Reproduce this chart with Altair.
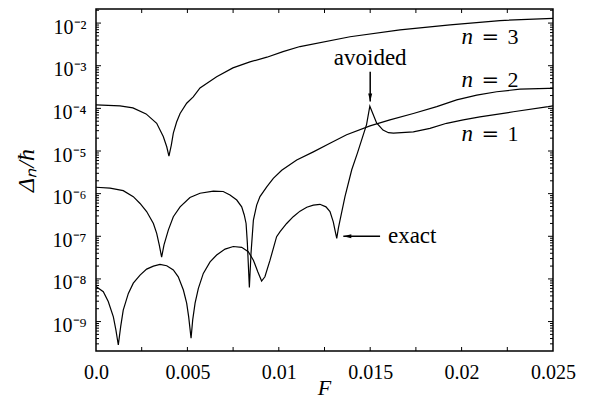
import altair as alt
import pandas as pd

# ---- data (F values and log10 of Delta_n/hbar) ----
F_n3 = [0.0, 0.00131, 0.00202, 0.00274, 0.00332, 0.00368, 0.00387, 0.00399, 0.00412, 0.00423,
        0.00441, 0.0046, 0.00496, 0.00532, 0.00569, 0.0066, 0.00749, 0.00842, 0.00935, 0.01023,
        0.01116, 0.0139, 0.01663, 0.01937, 0.0221, 0.025]
LOG_n3 = [-3.92, -3.94, -3.99, -4.13, -4.35, -4.66, -4.90, -5.12, -4.86, -4.58,
          -4.32, -4.12, -3.88, -3.73, -3.52, -3.26, -3.05, -2.91, -2.80, -2.67,
          -2.55, -2.32, -2.16, -2.04, -1.94, -1.89]

F_n2 = [0.0, 0.00077, 0.00149, 0.00204, 0.00241, 0.00277, 0.00314, 0.00332, 0.00346, 0.00359,
        0.00372, 0.00396, 0.00423, 0.0046, 0.00514, 0.00569, 0.00642, 0.00696, 0.00733, 0.0077,
        0.00797, 0.00811, 0.00821, 0.00828, 0.00839, 0.00848, 0.00861, 0.00879, 0.00897, 0.00934,
        0.0097, 0.01016, 0.01098, 0.01189, 0.0128, 0.01371, 0.01499, 0.01608, 0.01736, 0.01864,
        0.01973, 0.02083, 0.02192, 0.02319, 0.02474, 0.025]
LOG_n2 = [-5.85, -5.87, -5.93, -6.07, -6.23, -6.42, -6.70, -6.93, -7.20, -7.49,
          -7.20, -6.85, -6.54, -6.31, -6.09, -5.99, -5.94, -5.95, -6.03, -6.15,
          -6.31, -6.50, -6.70, -7.16, -8.20, -7.40, -6.62, -6.27, -6.07, -5.84,
          -5.64, -5.45, -5.21, -5.02, -4.82, -4.62, -4.41, -4.27, -4.12, -3.96,
          -3.80, -3.69, -3.61, -3.55, -3.53, -3.53]

F_n1 = [0.0, 0.0004, 0.00067, 0.00095, 0.00109, 0.00122, 0.00135, 0.00149, 0.00177, 0.00204,
        0.00241, 0.00277, 0.00314, 0.0035, 0.00387, 0.00423, 0.0045, 0.00478, 0.00496, 0.00507,
        0.0052, 0.00529, 0.00542, 0.0056, 0.00587, 0.00624, 0.0066, 0.00706, 0.00751, 0.00797,
        0.00833, 0.00861, 0.00885, 0.00906, 0.00924, 0.00952, 0.00988, 0.01007, 0.01043, 0.01079,
        0.01116, 0.01153, 0.01189, 0.01225, 0.01258, 0.0128, 0.01298, 0.01307, 0.01317, 0.01326,
        0.01335, 0.01362, 0.01399, 0.0143, 0.0148, 0.01498, 0.01535, 0.0157, 0.016, 0.01627,
        0.01736, 0.01827, 0.01918, 0.02009, 0.021, 0.02283, 0.02474, 0.025]
LOG_n1 = [-8.18, -8.30, -8.53, -8.89, -9.20, -9.55, -9.12, -8.73, -8.34, -8.10,
          -7.91, -7.77, -7.70, -7.66, -7.69, -7.79, -7.95, -8.26, -8.57, -8.89,
          -9.39, -8.96, -8.57, -8.22, -7.87, -7.60, -7.44, -7.30, -7.24, -7.26,
          -7.36, -7.56, -7.83, -8.05, -7.95, -7.56, -7.01, -6.89, -6.70, -6.54,
          -6.41, -6.32, -6.27, -6.25, -6.31, -6.42, -6.66, -6.85, -7.05, -6.81,
          -6.62, -6.07, -5.44, -5.05, -4.38, -3.95, -4.34, -4.51, -4.57, -4.58,
          -4.55, -4.47, -4.35, -4.27, -4.20, -4.08, -3.96, -3.94]

X_TICKS = [0.0, 0.005, 0.01, 0.015, 0.02, 0.025]
X_MINOR = [0.0025, 0.005, 0.0075, 0.01, 0.0125, 0.015, 0.0175, 0.02, 0.0225]
Y_TICKS = [1e-9, 1e-8, 1e-7, 1e-6, 1e-5, 1e-4, 1e-3, 1e-2]

N_LABEL_F = [0.02, 0.02, 0.02]
N_LABEL_D = [3.27e-3, 3.16e-4, 1.7e-5]
N_LABEL_DIGIT = ["3", "2", "1"]

AVOIDED_F = [0.015]
AVOIDED_TEXT_D = [1.05e-3]
AVOIDED_ARROW_D = [7.2e-4, 1.45e-4]
EXACT_TEXT_F = [0.01597]
EXACT_TEXT_D = [6.9e-8]
EXACT_ARROW_F = [0.01554, 0.01353]
EXACT_ARROW_D = [1.0e-7]

Y_DOMAIN = [2.04e-10, 2.14e-2]
X_DOMAIN = [0.0, 0.025]

W, H = 457, 342
SERIF = "Liberation Serif"

curves = pd.concat([
    pd.DataFrame({"F": F_n1, "D": [10 ** v for v in LOG_n1], "n": "1"}),
    pd.DataFrame({"F": F_n2, "D": [10 ** v for v in LOG_n2], "n": "2"}),
    pd.DataFrame({"F": F_n3, "D": [10 ** v for v in LOG_n3], "n": "3"}),
], ignore_index=True)

xs = alt.Scale(domain=X_DOMAIN, nice=False, zero=False)
ys = alt.Scale(type="log", domain=Y_DOMAIN, nice=False)

sup = "⁰¹²³⁴⁵⁶⁷⁸⁹"
ylabel = ("'10⁻' + substring('" + sup + "', -round(log(datum.value)/LN10), "
          "-round(log(datum.value)/LN10) + 1)")

lines = alt.Chart(curves).mark_line(color="black", strokeWidth=1.2, clip=True).encode(
    x=alt.X("F:Q", scale=xs, axis=alt.Axis(
        values=X_TICKS, ticks=False, domain=False, grid=False,
        labelExpr="datum.value == 0 ? '0.0' : format(datum.value, '~g')",
        labelFontSize=20, labelColor="black", labelPadding=11,
        labelFlush=False, labelOverlap=False,
        title="F", titleFontSize=22, titleFontStyle="italic",
        titleFontWeight="normal", titleColor="black", titleX=228, titleY=43,
        titleAlign="center", titleBaseline="alphabetic")),
    y=alt.Y("D:Q", scale=ys, axis=alt.Axis(
        values=Y_TICKS, ticks=False, domain=False, grid=False,
        labelExpr=ylabel, labelFontSize=20, labelColor="black",
        labelPadding=10, labelBaseline="alphabetic", labelOffset=10,
        labelFlush=False, labelOverlap=False,
        title="Δₙ/ħ", titleFontSize=24, titleFontStyle="italic",
        titleFontWeight="normal", titleColor="black", titleX=-63, titleY=161,
        titleAngle=270, titleAlign="center", titleBaseline="alphabetic")),
    detail="n:N",
)

# ticks (inward) drawn as rules
xt = pd.DataFrame({"F": X_MINOR})
ymaj = pd.DataFrame({"D": Y_TICKS})
yminor_vals = [m * 10.0 ** e for e in range(-10, -1) for m in range(2, 10)
               if Y_DOMAIN[0] <= m * 10.0 ** e <= Y_DOMAIN[1]]
ymin = pd.DataFrame({"D": yminor_vals})

def xtick(y0, y1):
    return alt.Chart(xt).mark_rule(color="black", strokeWidth=1).encode(
        x=alt.X("F:Q", scale=xs), y=alt.value(y0), y2=alt.value(y1))

def ytick(df, x0, x1):
    return alt.Chart(df).mark_rule(color="black", strokeWidth=1).encode(
        y=alt.Y("D:Q", scale=ys), x=alt.value(x0), x2=alt.value(x1))

ticks = [xtick(H, H - 4), xtick(0, 4),
         ytick(ymaj, 0, 5), ytick(ymin, 0, 3),
         ytick(ymaj, W, W - 5), ytick(ymin, W, W - 3)]

# n labels
nlab = pd.DataFrame({"F": N_LABEL_F, "D": N_LABEL_D, "d": N_LABEL_DIGIT})
n_it = alt.Chart(nlab).mark_text(font=SERIF, fontSize=23, fontStyle="italic", align="left",
                                 baseline="alphabetic", color="black").encode(
    x=alt.X("F:Q", scale=xs), y=alt.Y("D:Q", scale=ys), text=alt.value("n"))
n_eq = alt.Chart(nlab).mark_text(font="DejaVu Serif", fontSize=21, align="left", dx=20,
                                 baseline="alphabetic", color="black").encode(
    x=alt.X("F:Q", scale=xs), y=alt.Y("D:Q", scale=ys), text=alt.value("="))
n_dg = alt.Chart(nlab).mark_text(font=SERIF, fontSize=22, align="left", dx=46,
                                 baseline="alphabetic", color="black").encode(
    x=alt.X("F:Q", scale=xs), y=alt.Y("D:Q", scale=ys), text="d:N")

# avoided / exact annotations
av_txt = alt.Chart(pd.DataFrame({"F": AVOIDED_F, "D": AVOIDED_TEXT_D, "t": ["avoided"]})).mark_text(
    font=SERIF, fontSize=23, align="center", baseline="alphabetic", color="black").encode(
    x=alt.X("F:Q", scale=xs), y=alt.Y("D:Q", scale=ys), text="t:N")
av_line = alt.Chart(pd.DataFrame({"F": AVOIDED_F, "D": [AVOIDED_ARROW_D[0]], "D2": [AVOIDED_ARROW_D[1]]})).mark_rule(
    color="black", strokeWidth=1.5).encode(
    x=alt.X("F:Q", scale=xs), y=alt.Y("D:Q", scale=ys), y2="D2:Q")
av_head = alt.Chart(pd.DataFrame({"F": AVOIDED_F, "D": [AVOIDED_ARROW_D[1]]})).mark_point(
    shape="M -0.5 -2 L 0.5 -2 L 0 0 Z", size=64, filled=True, color="black", opacity=1, strokeWidth=0).encode(
    x=alt.X("F:Q", scale=xs), y=alt.Y("D:Q", scale=ys))

ex_txt = alt.Chart(pd.DataFrame({"F": EXACT_TEXT_F, "D": EXACT_TEXT_D, "t": ["exact"]})).mark_text(
    font=SERIF, fontSize=23, align="left", baseline="alphabetic", color="black").encode(
    x=alt.X("F:Q", scale=xs), y=alt.Y("D:Q", scale=ys), text="t:N")
ex_line = alt.Chart(pd.DataFrame({"F": [EXACT_ARROW_F[0]], "F2": [EXACT_ARROW_F[1]], "D": EXACT_ARROW_D})).mark_rule(
    color="black", strokeWidth=1.5).encode(
    x=alt.X("F:Q", scale=xs), x2="F2:Q", y=alt.Y("D:Q", scale=ys))
ex_head = alt.Chart(pd.DataFrame({"F": [EXACT_ARROW_F[1]], "D": EXACT_ARROW_D})).mark_point(
    shape="M 2 -0.5 L 2 0.5 L 0 0 Z", size=64, filled=True, color="black", opacity=1, strokeWidth=0).encode(
    x=alt.X("F:Q", scale=xs), y=alt.Y("D:Q", scale=ys))

chart = alt.layer(
    lines, *ticks, n_it, n_eq, n_dg, av_txt, av_line, av_head, ex_txt, ex_line, ex_head
).properties(
    width=W, height=H,
    autosize=alt.AutoSizeParams(type="none"),
    padding={"left": 88, "top": 1, "right": 34, "bottom": 47},
).configure(
    font=SERIF
).configure_axis(
    labelFont=SERIF, titleFont=SERIF
).configure_text(
    font=SERIF
).configure_view(stroke="black", strokeWidth=1.5)

chart.save("out.html", embed_options={"renderer": "svg", "actions": False})
